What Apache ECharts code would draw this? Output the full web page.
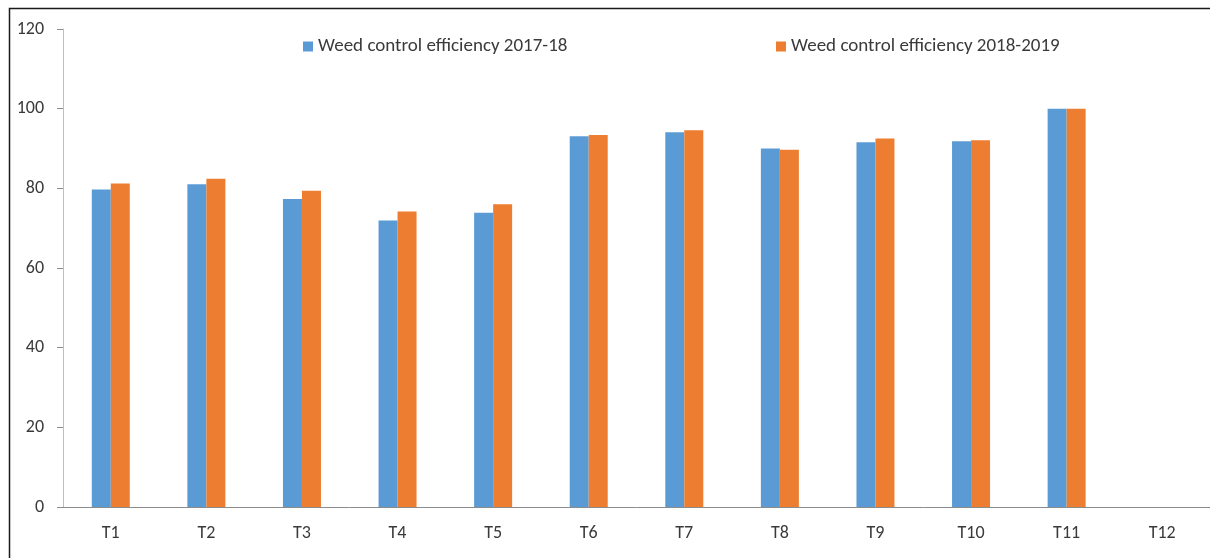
<!DOCTYPE html>
<html>
<head>
<meta charset="utf-8">
<script src="https://cdn.jsdelivr.net/npm/echarts@6/dist/echarts.min.js"></script>
<style>
html,body{margin:0;padding:0;background:#fff;}
#chart{width:1210px;height:558px;}
</style>
</head>
<body>
<div id="chart"></div>
<script>
const categories = ['T1','T2','T3','T4','T5','T6','T7','T8','T9','T10','T11','T12'];
const series1Name = 'Weed control efficiency 2017-18';
const series2Name = 'Weed control efficiency 2018-2019';
const wce2017 = [79.7, 81.0, 77.3, 71.9, 73.9, 93.1, 94.1, 90.0, 91.6, 91.8, 100, null];
const wce2018 = [81.2, 82.4, 79.4, 74.2, 76.0, 93.4, 94.6, 89.7, 92.5, 92.1, 100, null];
const yTicks = [0, 20, 40, 60, 80, 100, 120];

const font = 'Carlito, Calibri, "Open Sans", "Liberation Sans", sans-serif';
const chart = echarts.init(document.getElementById('chart'), null, {renderer:'canvas'});
chart.setOption({
  animation: false,
  backgroundColor: '#fff',
  graphic: [{
    type: 'rect', left: 7, top: 6, silent: true,
    shape: {width: 1400, height: 800},
    style: {fill: 'none', stroke: '#1a1a1a', lineWidth: 1.5}
  }],
  legend: [{
    data: [series1Name], left: 298, top: 32, itemWidth: 10, itemHeight: 10,
    icon: 'rect', textStyle: {fontFamily: font, fontSize: 19, color: '#3a3a3a'}
  },{
    data: [series2Name], left: 771, top: 32, itemWidth: 10, itemHeight: 10,
    icon: 'rect', textStyle: {fontFamily: font, fontSize: 19, color: '#3a3a3a'}
  }],
  grid: {left: 63, right: -3, top: 29, bottom: 51, containLabel: false},
  xAxis: {
    type: 'category', data: categories,
    axisLine: {show: true, lineStyle: {color: '#8c8c8c', width: 1}},
    axisTick: {show: false},
    axisLabel: {fontFamily: font, fontSize: 18, color: '#3a3a3a', margin: 17}
  },
  yAxis: {
    type: 'value', min: yTicks[0], max: yTicks[yTicks.length-1], interval: 20,
    axisLine: {show: true, lineStyle: {color: '#bfbfbf', width: 1}},
    axisTick: {show: true, length: 6, lineStyle: {color: '#8c8c8c'}},
    splitLine: {show: false},
    axisLabel: {fontFamily: font, fontSize: 18, color: '#3a3a3a', margin: 19}
  },
  series: [{
    name: series1Name, type: 'bar', data: wce2017, barWidth: 19, barGap: '0%',
    itemStyle: {color: '#5B9BD5'}
  },{
    name: series2Name, type: 'bar', data: wce2018, barWidth: 19, barGap: '0%',
    itemStyle: {color: '#ED7D31'}
  }]
});
</script>
</body>
</html>
